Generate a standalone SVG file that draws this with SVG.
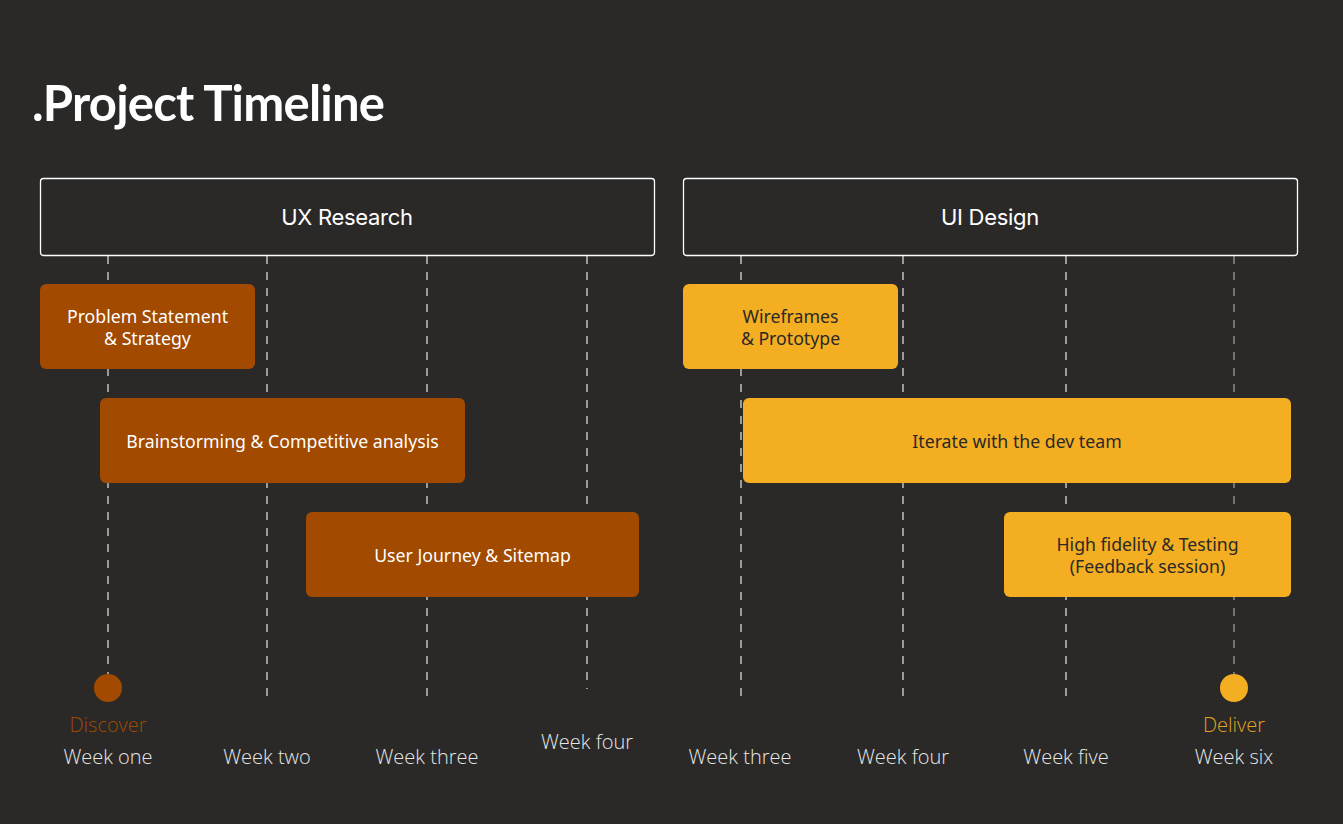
<svg xmlns="http://www.w3.org/2000/svg" width="1343" height="824" viewBox="0 0 1343 824">
<style>
.title{font-family:Lato,"Noto Sans",sans-serif;font-weight:700;font-size:49px;fill:#ffffff}
.hdr{fill:none;stroke:#ffffff;stroke-width:1.3}
.hdrt{font-family:Inter,"Noto Sans",sans-serif;font-size:22px;fill:#ffffff;text-anchor:middle;dominant-baseline:central;letter-spacing:-0.3px}
.grid{stroke:#d8d8d8;stroke-width:1.3;stroke-dasharray:8 8}
.brown{fill:#a14a00}
.gold{fill:#f4ae22}
.nt{font-family:"Noto Sans",Inter,sans-serif;font-size:17.7px;text-anchor:middle;dominant-baseline:central}
.ntw{fill:#ffffff}
.ntd{fill:#2a2928}
.wk{font-family:"Open Sans","Noto Sans",sans-serif;font-weight:300;font-size:20px;fill:#e6e6e6;text-anchor:middle}
.ms{font-family:"Open Sans","Noto Sans",sans-serif;font-weight:300;font-size:20px;text-anchor:middle}
</style>
<rect width="1343" height="824" fill="#2a2928"/>
<text class="title" x="32" y="121" textLength="353" lengthAdjust="spacing">.Project Timeline</text>

<g id="connectors">
<line class="grid" x1="108" y1="256" x2="108" y2="674"/>
<line class="grid" x1="267" y1="256" x2="267" y2="704"/>
<line class="grid" x1="427" y1="256" x2="427" y2="704"/>
<line class="grid" x1="587" y1="256" x2="587" y2="689"/>
<line class="grid" x1="741" y1="256" x2="741" y2="704"/>
<line class="grid" x1="903" y1="256" x2="903" y2="704"/>
<line class="grid" x1="1066" y1="256" x2="1066" y2="704"/>
<line class="grid" x1="1234" y1="256" x2="1234" y2="674" style="stroke:#9a9a9a"/>
</g>

<g id="ux-research">
<rect class="hdr" x="40.5" y="178.5" width="614" height="77" rx="3"/>
<text class="hdrt" x="347" y="217">UX Research</text>
</g>
<g id="ui-design">
<rect class="hdr" x="683.5" y="178.5" width="614" height="77" rx="3"/>
<text class="hdrt" x="990" y="217">UI Design</text>
</g>

<g id="problem-statement">
<rect class="brown" x="40" y="284" width="215" height="85" rx="6"/>
<text class="nt ntw" x="147.5" y="316">Problem Statement</text>
<text class="nt ntw" x="147.5" y="338">&amp; Strategy</text>
</g>
<g id="brainstorming">
<rect class="brown" x="100" y="398" width="365" height="85" rx="6"/>
<text class="nt ntw" x="282.5" y="441">Brainstorming &amp; Competitive analysis</text>
</g>
<g id="user-journey">
<rect class="brown" x="306" y="512" width="333" height="85" rx="6"/>
<text class="nt ntw" x="472.5" y="555">User Journey &amp; Sitemap</text>
</g>
<g id="wireframes">
<rect class="gold" x="683" y="284" width="215" height="85" rx="6"/>
<text class="nt ntd" x="790.5" y="316">Wireframes</text>
<text class="nt ntd" x="790.5" y="338">&amp; Prototype</text>
</g>
<g id="iterate">
<rect class="gold" x="743" y="398" width="548" height="85" rx="6"/>
<text class="nt ntd" x="1017" y="441">Iterate with the dev team</text>
</g>
<g id="high-fidelity">
<rect class="gold" x="1004" y="512" width="287" height="85" rx="6"/>
<text class="nt ntd" x="1147.5" y="544">High fidelity &amp; Testing</text>
<text class="nt ntd" x="1147.5" y="566">(Feedback session)</text>
</g>

<g id="discover">
<circle class="brown" cx="108" cy="688" r="14"/>
<text class="ms" x="108" y="732" fill="#a14a00">Discover</text>
</g>
<g id="deliver">
<circle class="gold" cx="1234" cy="688" r="14"/>
<text class="ms" x="1234" y="732" fill="#e0a325">Deliver</text>
</g>

<g id="weeks">
<text class="wk" x="108" y="764">Week one</text>
<text class="wk" x="267" y="764">Week two</text>
<text class="wk" x="427" y="764">Week three</text>
<text class="wk" x="587" y="749">Week four</text>
<text class="wk" x="740" y="764">Week three</text>
<text class="wk" x="903" y="764">Week four</text>
<text class="wk" x="1066" y="764">Week five</text>
<text class="wk" x="1234" y="764">Week six</text>
</g>
</svg>
